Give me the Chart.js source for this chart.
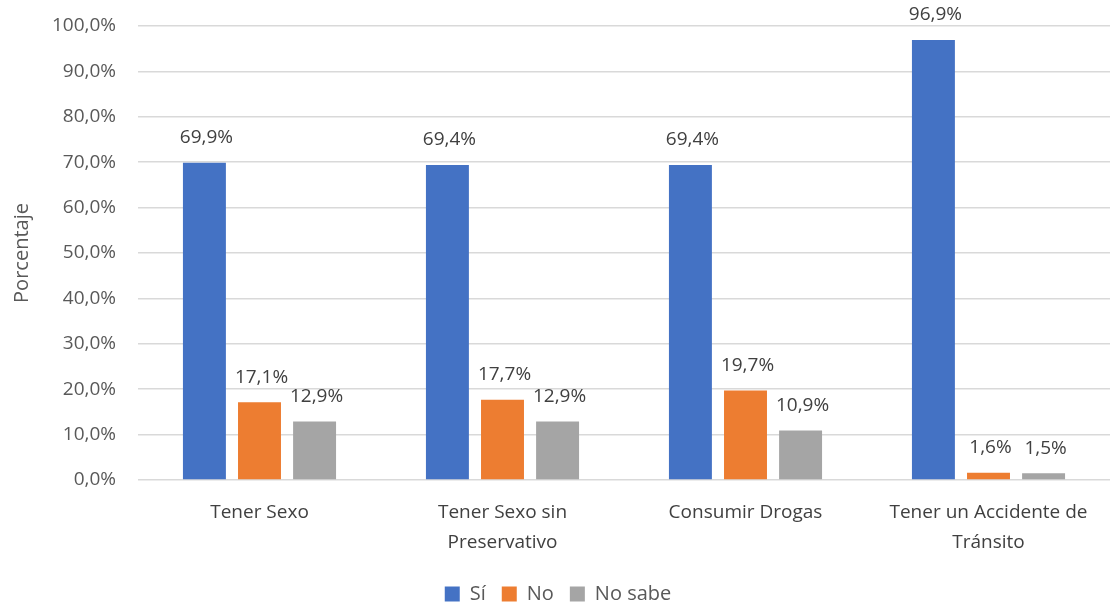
<!DOCTYPE html>
<html>
<head>
<meta charset="utf-8">
<script src="https://cdn.jsdelivr.net/npm/chart.js@4.4.0/dist/chart.umd.min.js"></script>
<style>
  html, body { margin: 0; padding: 0; background: #fff; }
  #wrap { width: 1114px; height: 604px; }
</style>
</head>
<body>
<div id="wrap"><canvas id="chart" width="1114" height="604"></canvas></div>
<script>
const categories = [
  'Tener Sexo',
  ['Tener Sexo sin', 'Preservativo'],
  'Consumir Drogas',
  ['Tener un Accidente de', 'Tránsito'],
];
const siValues     = [69.9, 69.4, 69.4, 96.9];
const noValues     = [17.1, 17.7, 19.7, 1.6];
const noSabeValues = [12.9, 12.9, 10.9, 1.5];
const seriesNames  = ['Sí', 'No', 'No sabe'];

const FONT = "'Open Sans', 'Liberation Sans', sans-serif";
const fmt = v => v.toFixed(1).replace('.', ',') + '%';

// labels above each bar, Excel style
const barLabels = {
  id: 'barLabels',
  afterDatasetsDraw(chart) {
    const ctx = chart.ctx;
    ctx.save();
    ctx.font = '19px ' + FONT;
    ctx.fillStyle = '#404040';
    ctx.textAlign = 'center';
    ctx.textBaseline = 'middle';
    chart.data.datasets.forEach((ds, i) => {
      chart.getDatasetMeta(i).data.forEach((bar, j) => {
        ctx.fillText(fmt(ds.data[j]), bar.x + 2, bar.y - 25);
      });
    });
    ctx.restore();
  }
};

new Chart(document.getElementById('chart'), {
  type: 'bar',
  data: {
    labels: categories,
    datasets: [
      { label: seriesNames[0], data: siValues,     backgroundColor: '#4472c4' },
      { label: seriesNames[1], data: noValues,     backgroundColor: '#ed7d31' },
      { label: seriesNames[2], data: noSabeValues, backgroundColor: '#a5a5a5' },
    ],
  },
  options: {
    responsive: false,
    animation: false,
    layout: { padding: { top: 26, right: 4, left: 6, bottom: -10 } },
    datasets: { bar: { categoryPercentage: 0.68, barPercentage: 0.78 } },
    plugins: {
      legend: {
        position: 'bottom',
        labels: {
          color: '#595959',
          font: { family: FONT, size: 20 },
          boxWidth: 15,
          boxHeight: 15,
          padding: 16,
        },
      },
      tooltip: { enabled: false },
    },
    scales: {
      x: {
        grid: { display: false },
        border: { display: false },
        ticks: {
          color: '#404040',
          font: { family: FONT, size: 19, lineHeight: 1.55 },
          maxRotation: 0,
          padding: 10,
        },
        afterFit: s => { s.height = 88; },
      },
      y: {
        min: 0,
        max: 100,
        ticks: {
          stepSize: 10,
          color: '#595959',
          font: { family: FONT, size: 19 },
          padding: 8,
          callback: v => fmt(v),
        },
        grid: { color: '#d9d9d9', lineWidth: 1.5, drawTicks: true, tickLength: 14, tickColor: 'rgba(0,0,0,0)' },
        border: { display: false },
        title: {
          display: true,
          text: 'Porcentaje',
          color: '#595959',
          font: { family: FONT, size: 20 },
        },
        afterFit: s => { s.width = 132; },
      },
    },
  },
  plugins: [barLabels],
});
</script>
</body>
</html>
